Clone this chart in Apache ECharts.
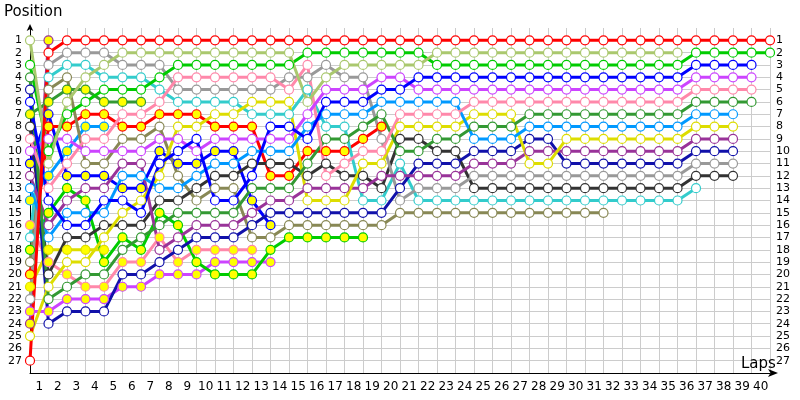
<!DOCTYPE html>
<html>
<head>
<meta charset="utf-8">
<script src="https://cdn.jsdelivr.net/npm/echarts/dist/echarts.min.js"></script>
<style>
  html, body { margin: 0; padding: 0; background: #fff; }
  #chart { width: 800px; height: 400px; }
</style>
</head>
<body>
<div id="chart"></div>
<script>
// tick labels
var lapLabels = ['1','2','3','4','5','6','7','8','9','10','11','12','13','14','15','16','17','18','19','20',
  '21','22','23','24','25','26','27','28','29','30','31','32','33','34','35','36','37','38','39','40'];
var posLabels = ['1','2','3','4','5','6','7','8','9','10','11','12','13','14','15','16','17','18','19','20',
  '21','22','23','24','25','26','27'];

// position after each lap, index 0 = grid
var red1 = [27,2,1,1,1,1,1,1,1,1, 1,1,1,1,1,1,1,1,1,1, 1,1,1,1,1,1,1,1,1,1, 1,1,1,1,1,1,1,1,1,1, 1];
var lime1 = [1,11,6,4,3,2,2,2,2,2, 2,2,2,2,2,6,4,3,3,3, 3,3,2,2,2,2,2,2,2,2, 2,2,2,2,2,2];
var green1 = [3,10,7,6,5,5,5,4,3,3, 3,3,3,3,3,2,2,2,2,2, 2,2,3,3,3,3,3,3,3,3, 3,3,3,3,3,3,2,2,2,2, 2];
var grey1 = [22,3,2,2,2,3,3,3,5,5, 5,5,5,5,4,4,3,4,4,9, 14,13,13,13,12,12,12,12,12,12, 12,12,12,12,12,12,11,11,11];
var cyan1 = [17,4,3,3,4,4,4,5,6,6, 6,6,7,7,7,5,8,8,14,14, 11,14,14,14,14,14,14,14,14,14, 14,14,14,14,14,14,13];
var pink1 = [9,13,11,9,9,7,7,6,4,4, 4,4,4,4,5,3,12,11,10,10, 7,7,7,7,6,6,6,6,6,6, 6,6,6,6,6,6,5,5,5,5];
var violet1 = [10,9,9,10,10,10,10,9,9,10, 9,9,9,9,9,7,5,5,5,4, 4,5,5,5,5,5,5,5,5,5, 5,5,5,5,5,5,4,4,4,4];
var blue1 = [6,14,16,16,14,14,15,11,10,9, 14,14,12,8,8,9,6,6,6,5, 5,4,4,4,4,4,4,4,4,4, 4,4,4,4,4,4,3,3,3,3];
var sky1 = [13,17,15,15,15,12,12,13,13,12, 11,11,10,10,10,8,7,7,7,6, 6,6,6,6,9,9,9,8,8,8, 8,8,8,8,8,8,7,7,7];
var yellow1 = [25,21,19,19,17,15,14,12,8,8, 7,7,6,6,6,14,14,14,11,11, 8,8,8,8,7,7,7,11,11,9, 9,9,9,9,9,9,8,8,8];
var plum1 = [12,16,14,13,13,11,11,18,17,16, 16,16,15,14,14,13,13,13,13,12, 12,12,12,12,11,11,11,10,10,10, 10,10,10,10,10,10,9,9,9];
var navy1 = [5,24,23,23,23,20,20,19,18,17, 17,17,16,15,15,15,15,15,15,15, 13,11,11,11,10,10,10,9,9,11, 11,11,11,11,11,11,10,10,10];
var dark1 = [8,20,17,17,16,16,16,14,14,13, 12,12,11,11,11,12,11,12,12,13, 9,9,10,10,13,13,13,13,13,13, 13,13,13,13,13,13,12,12,12];
var forest1 = [4,22,21,20,20,18,17,16,15,15, 15,15,13,13,13,11,9,9,8,7, 10,10,9,9,8,8,8,7,7,7, 7,7,7,7,7,7,6,6,6,6];
var olive1 = [19,5,4,11,11,9,9,8,12,14, 13,13,17,17,16,16,16,16,16,16, 15,15,15,15,15,15,15,15,15,15, 15,15];

var red2 = [20,8,8,7,7,8,8,7,7,7, 8,8,8,12,12,10,10,10,9,8];
var green2 = [18,15,13,14,19,17,18,15,16,19, 20,20,20,18,17,17,17,17,17];
var blue2 = [11,7,12,12,12,13,13,10,11,11, 10,10,14,16];
var violet2 = [23,23,22,22,22,21,21,20,20,20, 19,19,19,19];
var pink2 = [16,19,20,21,21,19,19,17,19,18, 18,18,18];
var forest2 = [7,6,5,5,6,6,6];
var sky2 = [14,12,10,8,8];
var yellow2 = [21,18,18,18,18];
var plum2 = [24,1];

var WHITE = '#ffffff';
var GOLD = '#ffff00';

function line(name, arr, color, fill) {
  return {
    name: name,
    type: 'line',
    data: arr.map(function (p, i) { return [i, p]; }),
    symbol: 'circle',
    symbolSize: 9,
    showAllSymbol: true,
    lineStyle: { color: color, width: 3 },
    itemStyle: { color: fill, borderColor: color, borderWidth: 1.2 },
    emphasis: { disabled: true }
  };
}

var series = [
  line('plum2', plum2, '#993399', GOLD),
  line('yellow2', yellow2, '#dddd00', GOLD),
  line('sky2', sky2, '#0099ff', GOLD),
  line('forest2', forest2, '#339933', GOLD),
  line('pink2', pink2, '#ff88aa', GOLD),
  line('violet2', violet2, '#cc44ff', GOLD),
  line('blue2', blue2, '#0000ff', GOLD),
  line('green2', green2, '#00cc00', GOLD),
  line('red2', red2, '#ff0000', GOLD),
  line('olive1', olive1, '#888855', WHITE),
  line('cyan1', cyan1, '#33cccc', WHITE),
  line('dark1', dark1, '#333333', WHITE),
  line('grey1', grey1, '#999999', WHITE),
  line('navy1', navy1, '#1111aa', WHITE),
  line('plum1', plum1, '#993399', WHITE),
  line('yellow1', yellow1, '#dddd00', WHITE),
  line('sky1', sky1, '#0099ff', WHITE),
  line('forest1', forest1, '#339933', WHITE),
  line('pink1', pink1, '#ff88aa', WHITE),
  line('violet1', violet1, '#cc44ff', WHITE),
  line('blue1', blue1, '#0000ff', WHITE),
  line('green1', green1, '#00cc00', WHITE),
  line('lime1', lime1, '#aac86e', WHITE),
  line('red1', red1, '#ff0000', WHITE)
];

var font = 'DejaVu Sans';
var chart = echarts.init(document.getElementById('chart'));
chart.setOption({
  animation: false,
  backgroundColor: '#fff',
  textStyle: { fontFamily: font },
  title: [
    { text: 'Position', left: 4, top: 5, padding: 0,
      textStyle: { fontSize: 15, fontWeight: 'normal', color: '#000', fontFamily: font } },
    { text: 'Laps', left: 741, top: 357, padding: 0,
      textStyle: { fontSize: 15, fontWeight: 'normal', color: '#000', fontFamily: font } }
  ],
  grid: { left: 30, right: 30, top: 28, bottom: 27, containLabel: false },
  xAxis: [{
    type: 'value',
    min: 0,
    max: 40,
    interval: 1,
    axisLine: { show: true, onZero: false, lineStyle: { color: '#000', width: 1 },
      symbol: ['none', 'arrow'], symbolSize: [6, 10], symbolOffset: [0, 8] },
    axisTick: { show: false },
    axisLabel: { show: false },
    splitLine: { show: true, lineStyle: { color: '#cccccc', width: 1 } }
  }, {
    type: 'category',
    position: 'bottom',
    data: lapLabels,
    boundaryGap: true,
    axisLine: { show: false },
    axisTick: { show: false },
    axisLabel: { color: '#000', fontSize: 12, margin: 8, interval: 0, fontFamily: font },
    splitLine: { show: false }
  }],
  yAxis: [{
    type: 'value',
    inverse: true,
    min: 0,
    max: 28,
    interval: 1,
    axisLine: { show: true, onZero: false, lineStyle: { color: '#000', width: 1 },
      symbol: ['none', 'arrow'], symbolSize: [5, 7], symbolOffset: [0, 4] },
    axisTick: { show: false },
    axisLabel: {
      color: '#000', fontSize: 11, margin: 8, fontFamily: font,
      formatter: function (v) { return (v >= 1 && v <= 27) ? posLabels[v - 1] : ''; }
    },
    splitLine: { show: true, showMinLine: false, lineStyle: { color: '#cccccc', width: 1 } }
  }, {
    type: 'value',
    inverse: true,
    min: 0,
    max: 28,
    interval: 1,
    position: 'right',
    axisLine: { show: false },
    axisTick: { show: false },
    axisLabel: {
      color: '#000', fontSize: 11, margin: 6, fontFamily: font,
      formatter: function (v) { return (v >= 1 && v <= 27) ? posLabels[v - 1] : ''; }
    },
    splitLine: { show: false }
  }],
  series: series
});
</script>
</body>
</html>
